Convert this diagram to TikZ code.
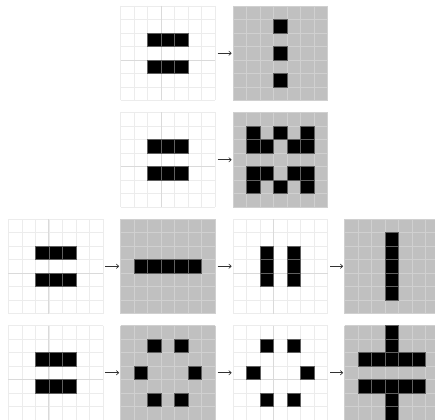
\documentclass[tikz,border=0pt]{standalone}
\usetikzlibrary{arrows.meta}
\definecolor{panelgray}{RGB}{192,192,192}
\definecolor{ggridcol}{RGB}{208,208,208}
\definecolor{wgridcol}{RGB}{236,236,236}
\definecolor{axiscol}{RGB}{218,218,218}
\definecolor{celledge}{RGB}{95,95,95}
\definecolor{arrcol}{RGB}{50,50,50}
\tikzset{
  wpanel/.style={draw=none, fill=white, minimum width=94.5pt, minimum height=94.5pt, inner sep=0pt, outer sep=0pt, anchor=north west},
  gpanel/.style={wpanel, fill=panelgray},
  cellbox/.style={fill=black, draw=celledge, line width=0.5pt},
  wgrid/.style={draw=wgridcol, line width=0.6pt},
  ggrid/.style={draw=ggridcol, line width=0.6pt},
  axisline/.style={draw=axiscol, line width=0.7pt},
  arr/.style={-{To[length=3pt,width=5pt]}, draw=arrcol, line width=0.6pt, shorten <=2.5pt, shorten >=1.5pt}
}
% #1 name, #2 x, #3 y, #4 panel style, #5 grid style, #6 extra, #7 cells
\newcommand{\basepanel}[7]{%
  \node[#4] (#1) at (#2,#3) {};
  \foreach \i in {0,...,7} {
    \draw[#5] ({#2+\i*13.5},#3) -- ++(0,94.5);
    \draw[#5] (#2,{#3+\i*13.5}) -- ++(94.5,0);
  }
  #6
  \foreach \c/\r in {#7} {\filldraw[cellbox] ({#2+\c*13.5},{#3+\r*13.5}) rectangle ++(13.5,13.5);}
}
\newcommand{\wpanelat}[4]{%
  \basepanel{#1}{#2}{#3}{wpanel}{wgrid}{%
    \draw[axisline] ({#2+3*13.5},#3) -- ++(0,94.5);
    \draw[axisline] (#2,{#3+4*13.5}) -- ++(94.5,0);}{#4}
}
\newcommand{\gpanelat}[4]{\basepanel{#1}{#2}{#3}{gpanel}{ggrid}{}{#4}}
\begin{document}
\begin{tikzpicture}[x=1pt,y=-1pt]
\useasboundingbox (0,0) rectangle (435,419);
\clip (0,0) rectangle (435,419);
\fill[white] (0,0) rectangle (435,419);
% row 1
\wpanelat{a1}{120.5}{6}{2/2,3/2,4/2,2/4,3/4,4/4}
\gpanelat{a2}{233}{6}{3/1,3/3,3/5}
% row 2
\wpanelat{b1}{120.5}{112.5}{2/2,3/2,4/2,2/4,3/4,4/4}
\gpanelat{b2}{233}{112.5}{1/1,3/1,5/1,1/2,2/2,4/2,5/2,1/4,2/4,4/4,5/4,1/5,3/5,5/5}
% row 3
\wpanelat{c1}{8.3}{219}{2/2,3/2,4/2,2/4,3/4,4/4}
\gpanelat{c2}{120.5}{219}{1/3,2/3,3/3,4/3,5/3}
\wpanelat{c3}{233}{219}{2/2,2/3,2/4,4/2,4/3,4/4}
\gpanelat{c4}{344.5}{219}{3/1,3/2,3/3,3/4,3/5}
% row 4
\wpanelat{d1}{8.3}{325.5}{2/2,3/2,4/2,2/4,3/4,4/4}
\gpanelat{d2}{120.5}{325.5}{2/1,4/1,1/3,5/3,2/5,4/5}
\wpanelat{d3}{233}{325.5}{2/1,4/1,1/3,5/3,2/5,4/5}
\gpanelat{d4}{344.5}{325.5}{3/0,3/1,1/2,2/2,3/2,4/2,5/2,1/4,2/4,3/4,4/4,5/4,3/5,3/6}
% arrows
\draw[arr] (a1.east) -- (a2.west);
\draw[arr] (b1.east) -- (b2.west);
\draw[arr] (c1.east) -- (c2.west);
\draw[arr] (c2.east) -- (c3.west);
\draw[arr] (c3.east) -- (c4.west);
\draw[arr] (d1.east) -- (d2.west);
\draw[arr] (d2.east) -- (d3.west);
\draw[arr] (d3.east) -- (d4.west);
\end{tikzpicture}
\end{document}
